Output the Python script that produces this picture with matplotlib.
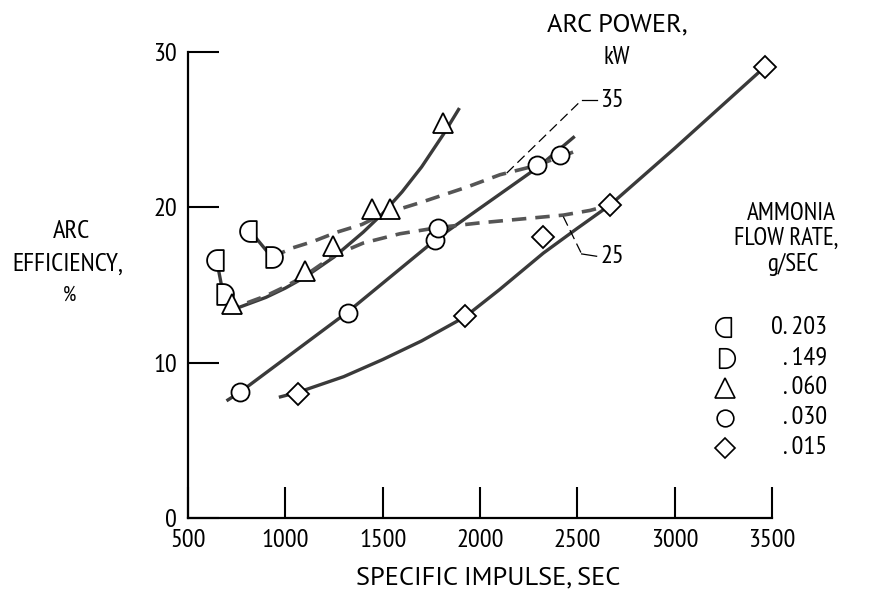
import matplotlib
matplotlib.use('Agg')
import matplotlib.pyplot as plt
import numpy as np
from matplotlib.path import Path

plt.rcParams['font.family'] = ['PT Sans Narrow', 'Liberation Sans', 'DejaVu Sans']
wide_font = ['PT Sans', 'Liberation Sans', 'DejaVu Sans']

# measured points, specific impulse (sec) vs arc efficiency (%)
isp_203 = [647, 818]
eff_203 = [16.6, 18.5]
isp_149 = [681, 930]
eff_149 = [14.4, 16.8]
isp_060 = [724, 1101, 1246, 1444, 1538, 1812]
eff_060 = [13.8, 15.9, 17.5, 19.9, 19.9, 25.4]
isp_030 = [767, 1324, 1769, 1786, 2291, 2411]
eff_030 = [8.1, 13.2, 17.9, 18.7, 22.7, 23.4]
isp_015 = [1067, 1923, 2325, 2668, 3464]
eff_015 = [8.0, 13.0, 18.1, 20.15, 29.05]

# faired curves
fit_060_isp = [690, 760, 900, 1000, 1100, 1250, 1400, 1500, 1600, 1700, 1812, 1890]
fit_060_eff = [13.3, 13.55, 14.2, 14.8, 15.5, 16.8, 18.4, 19.6, 21.0, 22.6, 24.7, 26.3]
fit_030_isp = [705, 767, 1324, 1780, 2300, 2480]
fit_030_eff = [7.6, 8.1, 13.3, 18.0, 22.6, 24.5]
fit_015_isp = [975, 1067, 1300, 1500, 1700, 1923, 2100, 2325, 2500, 2668, 3000, 3464]
fit_015_eff = [7.8, 8.1, 9.1, 10.2, 11.4, 12.95, 14.7, 17.05, 18.65, 20.15, 23.8, 29.05]

# constant arc power lines, kW
kw_35_isp = [930, 1040, 1142, 1265, 1394, 1490, 1589, 1692, 1932, 2103, 2291, 2488]
kw_35_eff = [16.8, 17.4, 17.8, 18.4, 18.9, 19.5, 19.9, 20.3, 21.3, 22.1, 22.7, 23.6]
kw_25_isp = [690, 760, 900, 1000, 1100, 1250, 1400, 1589, 1786, 2000, 2171, 2428, 2565, 2668]
kw_25_eff = [13.4, 13.65, 14.3, 14.9, 15.6, 16.9, 17.7, 18.3, 18.7, 19.0, 19.2, 19.5, 19.8, 20.15]

# leader lines to the power labels
lead_35_isp = [2137, 2522, 2599]
lead_35_eff = [22.2, 26.9, 26.9]
lead_25_isp = [2428, 2522, 2599]
lead_25_eff = [19.4, 17.0, 16.85]
power_labels = ['35', '25']
power_label_isp = [2617, 2617]
power_label_eff = [26.9, 16.85]

flow_labels = ['0. 203', '. 149', '. 060', '. 030', '. 015']

xticks = [500, 1000, 1500, 2000, 2500, 3000, 3500]
yticks = [0, 10, 20, 30]

# D-shaped markers
t = np.radians(np.linspace(90, -90, 25))
d_verts = [(-0.6, -1), (-0.6, 1), (0, 1)] + list(zip(np.cos(t), np.sin(t))) + [(-0.6, -1)]
d_right = Path(d_verts, closed=True)
d_left = Path([(-x, y) for x, y in d_verts], closed=True)

markers = [d_left, d_right, '^', 'o', 'D']
msizes = [15, 15, 15, 13, 11]

fig = plt.figure(figsize=(8.69, 5.96), dpi=100)
ax = fig.add_axes([188 / 869, 1 - 518 / 596, (772 - 188) / 869, (518 - 52) / 596])

line_col = '#3a3a3a'
ax.plot(fit_060_isp, fit_060_eff, color=line_col, lw=2.4, zorder=2)
ax.plot(fit_030_isp, fit_030_eff, color=line_col, lw=2.4, zorder=2)
ax.plot(fit_015_isp, fit_015_eff, color=line_col, lw=2.4, zorder=2)

ax.plot(kw_35_isp, kw_35_eff, color='#555555', lw=2.6, ls=(0, (4, 2.5)), zorder=2)
ax.plot(kw_25_isp, kw_25_eff, color='#555555', lw=2.6, ls=(0, (4, 2.5)), zorder=2)

# tails tying offset points together
for i in range(2):
    ax.plot([isp_203[i], isp_149[i]], [eff_203[i], eff_149[i]],
            color=line_col, lw=2.4, zorder=2)

ax.plot(lead_35_isp[:2], lead_35_eff[:2], color='black', lw=0.9, ls=(0, (8, 4)))
ax.plot(lead_35_isp[1:], lead_35_eff[1:], color='black', lw=0.9)
ax.plot(lead_25_isp[:2], lead_25_eff[:2], color='black', lw=0.9, ls=(0, (8, 4)))
ax.plot(lead_25_isp[1:], lead_25_eff[1:], color='black', lw=0.9)
for lab, x, y in zip(power_labels, power_label_isp, power_label_eff):
    ax.text(x, y, lab, fontsize=19, ha='left', va='center')

series = [(isp_203, eff_203), (isp_149, eff_149), (isp_060, eff_060),
          (isp_030, eff_030), (isp_015, eff_015)]
for (xs, ys), m, ms in zip(series, markers, msizes):
    ax.plot(xs, ys, ls='none', marker=m, ms=ms, mfc='white', mec='black',
            mew=1.3, zorder=4, clip_on=False)

ax.set_xlim(500, 3500)
ax.set_ylim(0, 30)
ax.set_xticks(xticks)
ax.set_yticks(yticks)
ax.tick_params(direction='in', length=22, width=1.5, pad=8, labelsize=19)
for s in ['top', 'right']:
    ax.spines[s].set_visible(False)
for s in ['left', 'bottom']:
    ax.spines[s].set_linewidth(1.6)

# axis titles
fig.text(71 / 869, 1 - 232 / 596, 'ARC', fontsize=19, ha='center', va='center')
fig.text(68 / 869, 1 - 264 / 596, 'EFFICIENCY,', fontsize=19, ha='center', va='center')
fig.text(70 / 869, 1 - 295 / 596, '%', fontsize=15, ha='center', va='center')
fig.text(488 / 869, 1 - 578 / 596, 'SPECIFIC IMPULSE, SEC', fontsize=19,
         family=wide_font, ha='center', va='center')
fig.text(617 / 869, 1 - 25 / 596, 'ARC POWER,', fontsize=19, family=wide_font,
         ha='center', va='center')
fig.text(617 / 869, 1 - 58 / 596, 'kW', fontsize=18, ha='center', va='center')

# flow rate key
fig.text(791 / 869, 1 - 213 / 596, 'AMMONIA', fontsize=18, ha='center', va='center')
fig.text(786 / 869, 1 - 238 / 596, 'FLOW RATE,', fontsize=18, ha='center', va='center')
fig.text(793 / 869, 1 - 264 / 596, 'g/SEC', fontsize=18, ha='center', va='center')
key_y = [327, 358, 388, 418, 448]
for lab, m, ms, py in zip(flow_labels, markers, msizes, key_y):
    fy = 1 - py / 596
    ax.plot([725 / 869], [fy], transform=fig.transFigure, marker=m, ms=ms - 1,
            mfc='white', mec='black', mew=1.2, clip_on=False)
    fig.text(827 / 869, fy, lab, fontsize=19, ha='right', va='center')

fig.savefig('out.png', dpi=100)
